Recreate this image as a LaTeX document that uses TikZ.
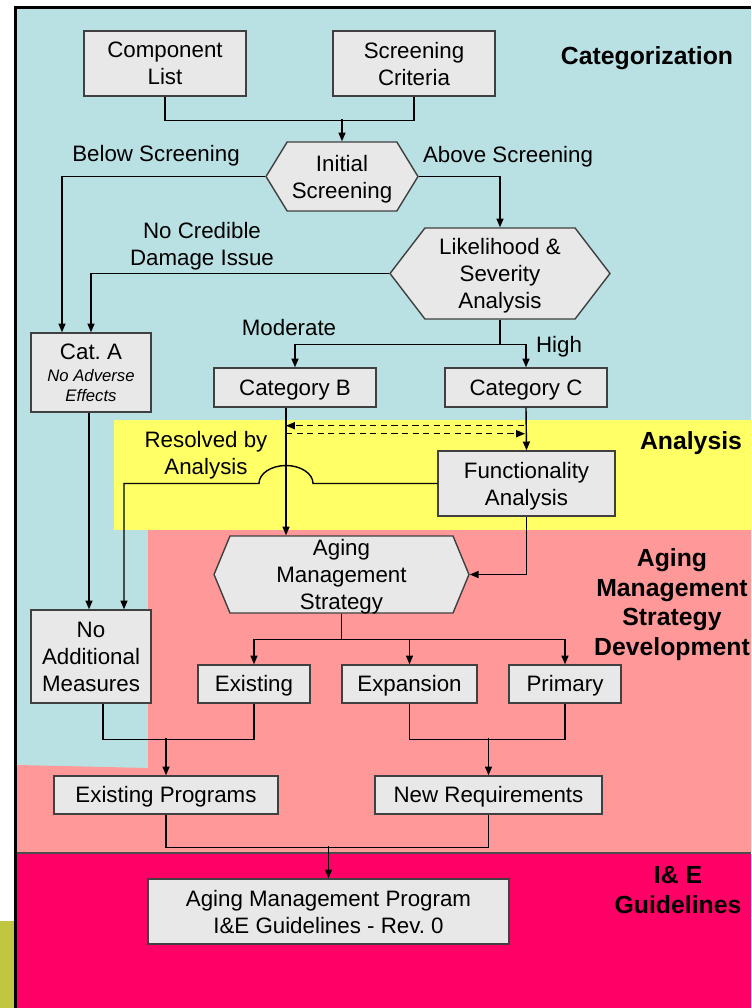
\documentclass[tikz,border=0pt]{standalone}
\usepackage{fontspec}
\setmainfont{Liberation Sans}
\usetikzlibrary{shapes,arrows,positioning,calc,arrows.meta}

\definecolor{catblue}{RGB}{185,224,227}
\definecolor{anayellow}{RGB}{255,255,102}
\definecolor{amssalmon}{RGB}{255,153,153}
\definecolor{iemagenta}{RGB}{255,0,102}
\definecolor{boxgray}{RGB}{232,232,232}
\definecolor{leafgreen}{RGB}{192,198,64}

\newcommand{\normtext}{\fontsize{12.7}{15.4}\selectfont}
\newcommand{\regtext}{\fontsize{14.1}{17}\selectfont\bfseries}
\newcommand{\smallit}{\fontsize{9.5}{11}\selectfont\itshape}
\newcommand{\linestrut}{\rule[-0.212em]{0pt}{1.117em}}

\tikzset{
  txt/.style={inner sep=0pt,align=center,execute at begin node=\linestrut,execute at end node=\linestrut},
  stack/.style={text depth=0pt},
  box/.style={txt,draw=black!75,fill=boxgray,line width=0.8pt,font=\normtext},
  hexbox/.style={box,stack,signal,signal to=west and east},
  lbl/.style={txt,font=\normtext},
  region/.style={txt,stack,font=\regtext},
}

\begin{document}
\begin{tikzpicture}[x=0.02cm,y=-0.02cm,line width=0.8pt,>={Triangle[length=5pt,width=4pt]}]
    \useasboundingbox (0,0) rectangle (751,1008);

    % Background bands
    \fill[catblue] (17,9) rectangle (751,1008);
    \fill[anayellow] (114,420) rectangle (751,530);
    \fill[amssalmon] (148,530) -- (751,530) -- (751,853) -- (17,853) -- (17,765) -- (148,768) -- cycle;
    \fill[iemagenta] (17,853) rectangle (751,1008);
    \draw[black!70,line width=0.6pt] (17,853) -- (751,853);
    \fill[leafgreen] (0,921) rectangle (14,1008);
    \draw[line width=1.7pt] (15.5,1008) -- (15.5,7.5) -- (751,7.5);

    % Band titles
    \node[region] (categ) at (647,53) {Categorization};
    \node[region] (analysis) at (691,438) {Analysis};
    \node[region] (amsdev) at (672,602) {Aging\\Management\\Strategy\\Development};
    \node[region] (ieguide) at (678,890) {I\&\ E\\Guidelines};

    % Categorization
    \node[box,stack,minimum width=3.24cm,minimum height=1.3cm] (comp) at (165,63.5) {Component\\List};
    \node[box,stack,minimum width=3.24cm,minimum height=1.3cm] (crit) at (414,63.5) {Screening\\Criteria};
    \node[hexbox,minimum width=3.04cm,minimum height=1.38cm,signal pointer angle=117] (init) at (342,176.5) {Initial\\Screening};
    \node[hexbox,minimum width=4.4cm,minimum height=1.82cm,signal pointer angle=105] (lik) at (500,273.5) {Likelihood \&\\Severity\\Analysis};
    \node[box,text depth=-1.4pt,minimum width=2.4cm,minimum height=1.58cm] (catA) at (91,372.5) {Cat.\ A\\[-2.7pt]{\smallit No Adverse}\\[-4.4pt]{\smallit Effects}};
    \node[box,minimum width=3.24cm,minimum height=0.78cm] (catB) at (295,387.5) {Category B};
    \node[box,minimum width=3.24cm,minimum height=0.78cm] (catC) at (526,387.5) {Category C};

    \node[lbl] (below) at (156,154) {Below Screening};
    \node[lbl] (above) at (508,155) {Above Screening};
    \node[lbl,stack] (nocred) at (202,243.5) {No Credible\\Damage Issue};
    \node[lbl] (moder) at (289,328) {Moderate};
    \node[lbl] (high) at (559,345) {High};

    % Analysis
    \node[box,stack,minimum width=3.54cm,minimum height=1.3cm] (func) at (526.5,483.5) {Functionality\\Analysis};
    \node[lbl,stack] (resolved) at (206,453) {Resolved by\\Analysis};

    % Strategy development
    \node[hexbox,minimum width=5.1cm,minimum height=1.54cm,signal pointer angle=135] (ams) at (341.5,574.5) {Aging\\Management\\Strategy};
    \node[box,stack,minimum width=2.4cm,minimum height=1.86cm] (noadd) at (91,656.5) {No\\Additional\\Measures};
    \node[box,minimum width=2.24cm,minimum height=0.76cm] (exist) at (254,684) {Existing};
    \node[box,minimum width=2.7cm,minimum height=0.76cm] (expan) at (409.5,684) {Expansion};
    \node[box,minimum width=2.24cm,minimum height=0.76cm] (prim) at (565,684) {Primary};
    \node[box,minimum width=4.48cm,minimum height=0.76cm] (existprog) at (166,795) {Existing Programs};
    \node[box,minimum width=4.54cm,minimum height=0.76cm] (newreq) at (488.5,795) {New Requirements};

    % I&E guidelines
    \node[box,stack,minimum width=7.22cm,minimum height=1.3cm] (amp) at (328.5,911.5) {Aging Management Program\\I\&E Guidelines - Rev.\ 0};

    % Connectors
    \draw (comp.south) -- ++(0,24) -| (crit.south);
    \draw[->] (init.north) ++(0,-22) -- (init.north);
    \draw[->] (init.west) -| ($(catA.north)+(-29,0)$);
    \draw[->] (init.east) -| (lik.north);
    \draw[->] (lik.west) -| (catA.north);
    \draw[->] (lik.south) -- ++(0,25) -| (catB.north);
    \draw[->] (lik.south) -- ++(0,25) -| (catC.north);

    \coordinate (bdown) at ($(catB.south)+(-9,0)$);
    \draw[->] (bdown) -- (bdown |- ams.north);
    \draw[->] (catC.south) -- (func.north);
    \draw[->,dash pattern=on 3.5pt off 2.5pt] ($(catC.south)+(-2,18)$) -- ($(bdown)+(0,18)$);
    \draw[->,dash pattern=on 3.5pt off 2.5pt] ($(bdown)+(0,26)$) -- ($(catC.south)+(-1,26)$);

    % Resolved by analysis, hopping over the B line
    \draw[->] (func.west) -- ($(bdown |- func.west)+(27,0)$)
        arc[start angle=0,end angle=-180,x radius=27,y radius=18]
        -| ($(noadd.north)+(33,0)$);
    \draw[->] ($(catA.south)+(-2,0)$) -- ($(noadd.north)+(-2,0)$);
    \draw[->] (func.south) |- (ams.east);

    \draw[->] (ams.south) -- ++(0,26) -| (exist.north);
    \draw[->] (ams.south) -- ++(0,26) -| (expan.north);
    \draw[->] (ams.south) -- ++(0,26) -| (prim.north);

    \draw ($(noadd.south)+(12,0)$) -- ++(0,36) -| (exist.south);
    \draw[->] (existprog.north) ++(0,-37) -- (existprog.north);
    \draw (expan.south) -- ++(0,36) -| (prim.south);
    \draw[->] (newreq.north) ++(0,-37) -- (newreq.north);

    \draw (existprog.south) -- ++(0,33) -| (newreq.south);
    \draw[->] (amp.north) ++(0,-32) -- (amp.north);
\end{tikzpicture}
\end{document}
